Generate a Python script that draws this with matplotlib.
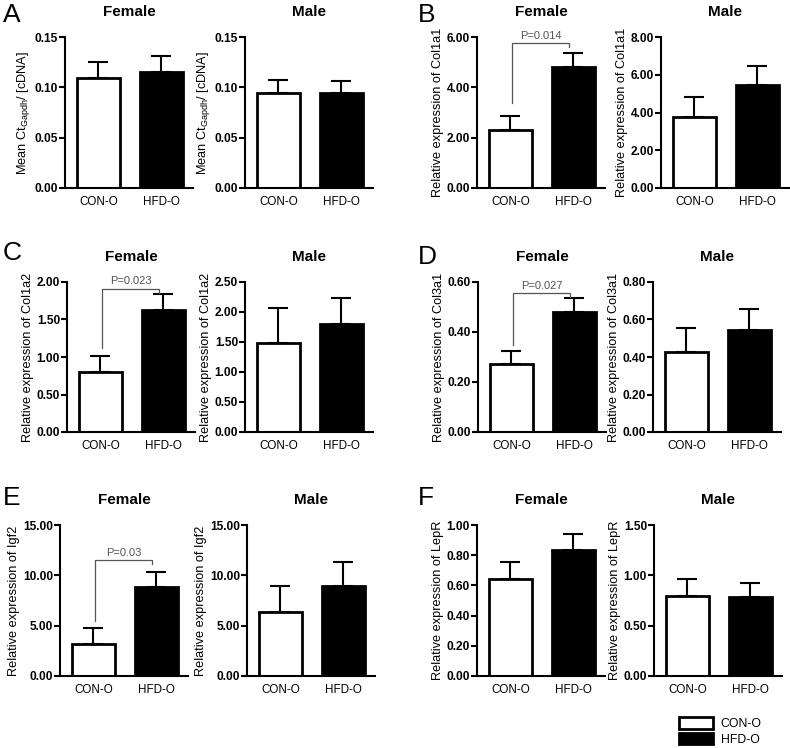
import numpy as np
import matplotlib
import matplotlib.pyplot as plt
from matplotlib.patches import Patch

matplotlib.use("agg")
plt.rcParams["font.family"] = ["Liberation Sans", "DejaVu Sans"]
plt.rcParams["mathtext.fontset"] = "custom"
plt.rcParams["mathtext.rm"] = "Liberation Sans"

W, H = 790, 748

# data
letters = ["A", "B", "C", "D", "E", "F"]
groups = ["CON-O", "HFD-O"]
ylabels = [
    r"Mean Ct$_\mathregular{Gapdh}$/ [cDNA]",
    "Relative expression of Col1a1",
    "Relative expression of Col1a2",
    "Relative expression of Col3a1",
    "Relative expression of Igf2",
    "Relative expression of LepR",
]
female_con = [0.109, 2.31, 0.80, 0.271, 3.18, 0.642]
female_con_sem = [0.016, 0.56, 0.215, 0.055, 1.62, 0.11]
female_hfd = [0.115, 4.81, 1.623, 0.480, 8.81, 0.835]
female_hfd_sem = [0.016, 0.57, 0.222, 0.054, 1.52, 0.106]
male_con = [0.094, 3.74, 1.476, 0.428, 6.39, 0.798]
male_con_sem = [0.013, 1.09, 0.59, 0.127, 2.58, 0.165]
male_hfd = [0.094, 5.45, 1.797, 0.543, 8.94, 0.781]
male_hfd_sem = [0.012, 1.02, 0.436, 0.115, 2.42, 0.142]

female_ymax = [0.15, 6, 2, 0.6, 15, 1.0]
female_step = [0.05, 2, 0.5, 0.2, 5, 0.2]
male_ymax = [0.15, 8, 2.5, 0.8, 15, 1.5]
male_step = [0.05, 2, 0.5, 0.2, 5, 0.5]

# significance brackets (female only): label, top, left foot, right foot
pvals = [None, "P=0.014", "P=0.023", "P=0.027", "P=0.03", None]
brk_top = [None, 5.75, 1.91, 0.556, 11.52, None]
brk_left = [None, 3.37, 1.12, 0.35, 5.5, None]
brk_right = [None, 5.59, 1.85, 0.54, 11.13, None]

# layout in pixels (y axis x-position, axes top/bottom per row)
col_x = [[65, 245, 477, 661], [67, 245, 478, 653], [60, 247, 477, 654]]
row_tb = [(37, 188), (282, 432), (525, 676)]
ax_w = 128
letter_xy = [(3, 22), (418, 22), (3, 260), (418, 264), (3, 505), (418, 505)]

fig = plt.figure(figsize=(W / 100, H / 100), dpi=100)


def draw(ax, means, sems, ymax, step, ylabel, title):
    x = np.arange(2)
    ax.bar(x, means, width=0.68, color=["white", "black"], edgecolor="black",
           linewidth=2, zorder=2)
    ax.errorbar(x, means, yerr=[[0, 0], sems], fmt="none", ecolor="black",
                elinewidth=1.5, capsize=7, capthick=1.5, zorder=1)
    ax.set_xlim(-0.53, 1.5)
    ax.set_ylim(0, ymax)
    ticks = np.arange(0, ymax + step / 2, step)
    ax.set_yticks(ticks)
    ax.set_yticklabels(["%.2f" % t for t in ticks], fontweight="bold", fontsize=8.6)
    ax.set_xticks(x)
    ax.set_xticklabels(groups, fontsize=8.4)
    ax.tick_params(axis="x", length=0, pad=6)
    ax.tick_params(axis="y", length=4, width=1.5, pad=1)
    for s in ["top", "right"]:
        ax.spines[s].set_visible(False)
    for s in ["left", "bottom"]:
        ax.spines[s].set_linewidth(1.5)
    ax.set_ylabel(ylabel, fontsize=9.2, labelpad=2)
    ax.set_title(title, fontweight="bold", fontsize=11, pad=15)


for i in range(6):
    row = i // 2
    c0 = (i % 2) * 2
    top, bot = row_tb[row]
    for j, (m, s, ymax, step, title) in enumerate([
        ([female_con[i], female_hfd[i]], [female_con_sem[i], female_hfd_sem[i]],
         female_ymax[i], female_step[i], "Female"),
        ([male_con[i], male_hfd[i]], [male_con_sem[i], male_hfd_sem[i]],
         male_ymax[i], male_step[i], "Male"),
    ]):
        left = col_x[row][c0 + j]
        ax = fig.add_axes([left / W, 1 - bot / H, ax_w / W, (bot - top) / H])
        draw(ax, m, s, ymax, step, ylabels[i], title)
        if j == 0 and pvals[i]:
            xl, xr = 0.03, 0.93
            ax.plot([xl, xl, xr, xr], [brk_left[i], brk_top[i], brk_top[i], brk_right[i]],
                    color="#555555", linewidth=0.9, zorder=3, clip_on=False)
            ax.text((xl + xr) / 2, brk_top[i] + ymax * 0.015, pvals[i], ha="center",
                    va="bottom", fontsize=8, color="#555555")
    lx, ly = letter_xy[i]
    fig.text(lx / W, 1 - ly / H, letters[i], fontsize=19, ha="left", va="baseline")

handles = [Patch(facecolor="white", edgecolor="black", linewidth=2),
           Patch(facecolor="black", edgecolor="black", linewidth=2)]
fig.legend(handles, groups, loc="upper left", bbox_to_anchor=(679 / W, 1 - 717 / H),
           frameon=False, fontsize=8.8, handlelength=2.8, handleheight=1.1,
           handletextpad=0.6, labelspacing=0.22, borderpad=0, borderaxespad=0)

fig.savefig("out.png", dpi=100)
